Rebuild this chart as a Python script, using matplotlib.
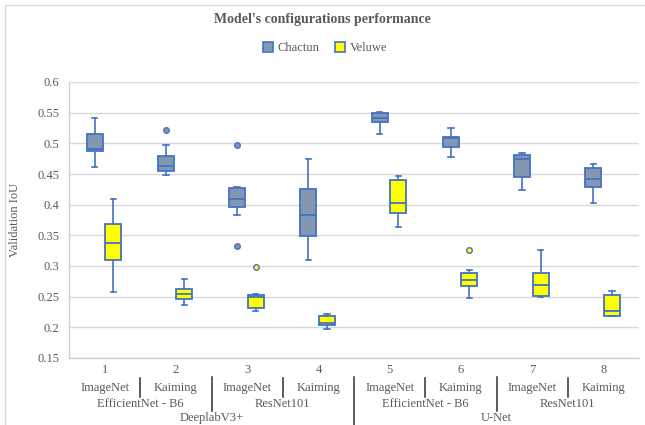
import numpy as np
import matplotlib
matplotlib.use('Agg')
import matplotlib.pyplot as plt
from matplotlib.patches import Patch, Rectangle

plt.rcParams['font.family'] = ['Liberation Serif', 'DejaVu Serif']

categories = ['1', '2', '3', '4', '5', '6', '7', '8']
init_labels = ['ImageNet', 'Kaiming'] * 4
backbone_labels = ['EfficientNet - B6', 'ResNet101', 'EfficientNet - B6', 'ResNet101']
model_labels = ['DeeplabV3+', 'U-Net']

# box statistics (validation IoU)
chactun_lo  = [0.462, 0.449, 0.383, 0.310, 0.516, 0.477, 0.424, 0.402]
chactun_q1  = [0.488, 0.455, 0.396, 0.349, 0.534, 0.494, 0.445, 0.428]
chactun_med = [0.490, 0.463, 0.409, 0.383, 0.542, 0.508, 0.474, 0.442]
chactun_q3  = [0.515, 0.480, 0.427, 0.425, 0.549, 0.510, 0.481, 0.459]
chactun_hi  = [0.541, 0.497, 0.429, 0.474, 0.551, 0.525, 0.484, 0.467]
chactun_out = [[], [0.522], [0.497, 0.333], [], [], [], [], []]

veluwe_lo  = [0.257, 0.236, 0.226, 0.197, 0.363, 0.248, 0.250, 0.219]
veluwe_q1  = [0.310, 0.246, 0.231, 0.204, 0.387, 0.268, 0.251, 0.219]
veluwe_med = [0.338, 0.2545, 0.250, 0.207, 0.402, 0.277, 0.269, 0.227]
veluwe_q3  = [0.368, 0.263, 0.2535, 0.2185, 0.440, 0.289, 0.288, 0.2524]
veluwe_hi  = [0.409, 0.279, 0.254, 0.222, 0.447, 0.294, 0.326, 0.259]
veluwe_out = [[], [], [0.299], [], [], [0.326], [], []]

edge = '#4472C4'
txt = '#595959'
c_chactun = '#8497B0'
c_veluwe = '#FFFF00'


def make_stats(lo, q1, med, q3, hi, out):
    return [dict(whislo=a, q1=b, med=c, q3=d, whishi=e, fliers=f)
            for a, b, c, d, e, f in zip(lo, q1, med, q3, hi, out)]


fig = plt.figure(figsize=(6.45, 4.25), dpi=100)
ax = fig.add_axes([69 / 645, 1 - 358 / 425, 570 / 645, 276 / 425])

# light chart frame
fig.patches.append(Rectangle((5 / 645, -0.1), 1.2, 1.1 - 5 / 425 + 0.0,
                             transform=fig.transFigure, fill=False,
                             edgecolor='#d9d9d9', lw=1))

x = np.arange(1, len(categories) + 1)
for stats, pos, face in [
        (make_stats(chactun_lo, chactun_q1, chactun_med, chactun_q3, chactun_hi, chactun_out), x - 0.14, c_chactun),
        (make_stats(veluwe_lo, veluwe_q1, veluwe_med, veluwe_q3, veluwe_hi, veluwe_out), x + 0.12, c_veluwe)]:
    ax.bxp(stats, positions=pos, widths=0.225, capwidths=0.075, patch_artist=True,
           showfliers=True, manage_ticks=False,
           boxprops=dict(facecolor=face, edgecolor=edge, lw=1.3),
           medianprops=dict(color=edge, lw=1.3),
           whiskerprops=dict(color=edge, lw=1.2),
           capprops=dict(color=edge, lw=1.2),
           flierprops=dict(marker='o', markersize=4, markerfacecolor=face,
                           markeredgecolor=edge, markeredgewidth=1))

ax.set_xlim(0.5, 8.5)
ax.set_ylim(0.15, 0.6)
ax.set_yticks(np.arange(0.15, 0.601, 0.05))
ax.set_yticklabels(['0.15', '0.2', '0.25', '0.3', '0.35', '0.4', '0.45', '0.5', '0.55', '0.6'])
ax.set_xticks(x)
ax.set_xticklabels(categories)
ax.tick_params(axis='both', length=0, colors=txt, labelsize=9)
ax.tick_params(axis='y', pad=7)
ax.tick_params(axis='x', pad=4)
ax.grid(axis='y', color='#d9d9d9', lw=1)
ax.set_axisbelow(True)
for s in ['top', 'right']:
    ax.spines[s].set_visible(False)
for s in ['left', 'bottom']:
    ax.spines[s].set_color('#d0d0d0')
    ax.spines[s].set_linewidth(1)

ax.set_ylabel('Validation IoU', color=txt, fontsize=9, labelpad=12)

# category table below axis
tr = ax.get_xaxis_transform()
for xi, lab in zip(x, init_labels):
    ax.text(xi, -0.1087, lab, transform=tr, ha='center', va='center', fontsize=9, color=txt)
for k, lab in enumerate(backbone_labels):
    ax.text(2 * k + 1.5, -0.1667, lab, transform=tr, ha='center', va='center', fontsize=9, color=txt)
for k, lab in enumerate(model_labels):
    ax.text(4 * k + 2.5, -0.2174, lab, transform=tr, ha='center', va='center', fontsize=9, color=txt)

for b in [1.5, 3.5, 5.5, 7.5]:
    ax.plot([b, b], [-0.0725, -0.1413], transform=tr, color='#303030', lw=1.1, clip_on=False)
for b in [2.5, 6.5]:
    ax.plot([b, b], [-0.0688, -0.192], transform=tr, color='#303030', lw=1.1, clip_on=False)
ax.plot([4.5, 4.5], [-0.0688, -0.26], transform=tr, color='#303030', lw=1.1, clip_on=False)

fig.suptitle("Model's configurations performance", y=1 - 20 / 425, va='center',
             fontsize=10, fontweight='bold', color=txt)

handles = [Patch(facecolor=c_chactun, edgecolor=edge, lw=1.2, label='Chactun'),
           Patch(facecolor=c_veluwe, edgecolor=edge, lw=1.2, label='Veluwe')]
fig.legend(handles=handles, loc='center', bbox_to_anchor=(325 / 645, 1 - 48 / 425),
           ncol=2, frameon=False, fontsize=9, handlelength=0.8, handleheight=0.8,
           handletextpad=0.4, columnspacing=1.2, labelcolor=txt)

fig.savefig('out.png', dpi=100)
